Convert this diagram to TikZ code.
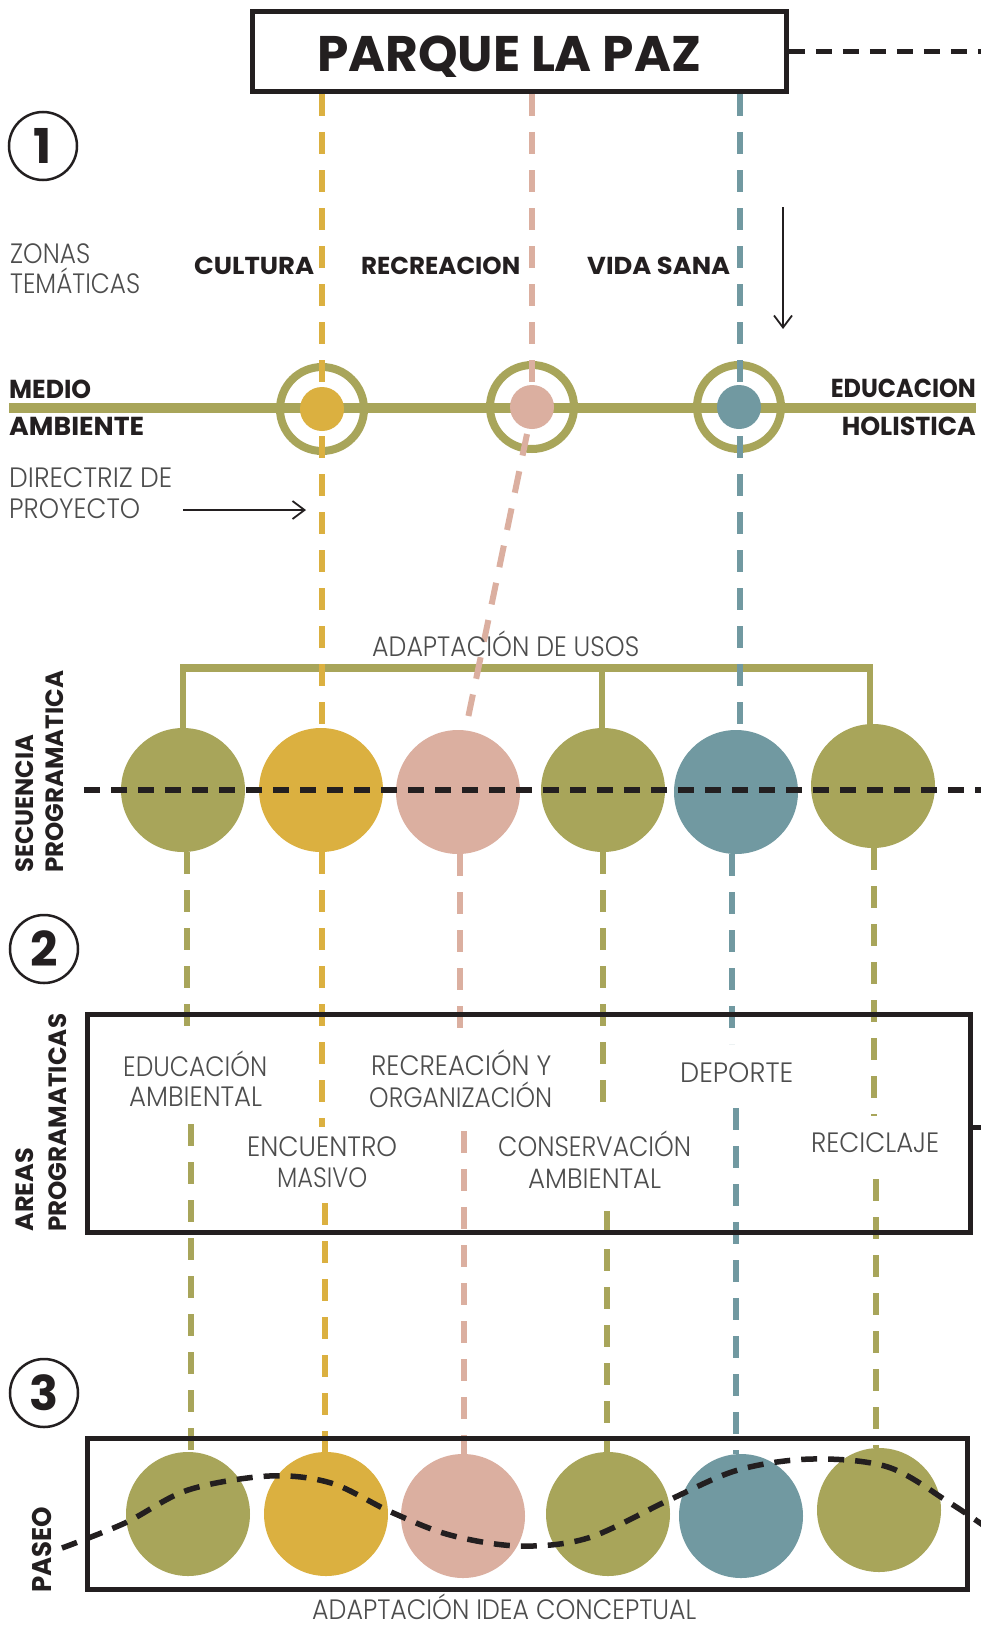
\documentclass[tikz,border=0pt]{standalone}
\usepackage{fontspec}
\usepackage{graphicx}
\setmainfont{Poppins}
\newfontfamily\bfont{Poppins Bold}
\newfontfamily\lfont{Poppins Light}
\definecolor{cOl}{HTML}{A8A55A}
\definecolor{cYe}{HTML}{DBB040}
\definecolor{cPi}{HTML}{DBAFA0}
\definecolor{cTe}{HTML}{7199A1}
\definecolor{cBk}{HTML}{231F20}
\definecolor{cGr}{HTML}{4D4D4D}
\newcommand{\fw}[2]{\resizebox{#1pt}{\height}{#2}}
\usetikzlibrary{arrows.meta}
\tikzset{
  cl/.style={line width=6pt, dash pattern=on 22pt off 16pt},
  bkdash/.style={line width=5.5pt, draw=cBk, dash pattern=on 16pt off 11pt},
  bl/.style={inner sep=0pt, text=cBk, font=\bfont\fontsize{#1}{#1}\selectfont},
  bl/.default=25,
  lt/.style={inner sep=0pt, text=cGr, font=\lfont\fontsize{28}{28}\selectfont},
  num/.style={circle, draw=cBk, line width=2.5pt, minimum size=68pt, inner sep=0pt, text=cBk, font=\bfont\fontsize{48}{48}\selectfont},
  ring/.style={circle, draw=cOl, line width=8pt, minimum size=84pt, inner sep=0pt},
  disc/.style={circle, fill=#1, minimum size=44pt, inner sep=0pt},
  big/.style={circle, fill=#1, minimum size=124pt, inner sep=0pt},
  box/.style={draw=cBk, line width=5pt},
  thinarrow/.style={draw=cBk, line width=1.8pt, -{Straight Barb[length=12pt,width=18pt,line width=1.8pt]}},
}
\begin{document}
\begin{tikzpicture}[x=1pt,y=-1pt]
\useasboundingbox (0,0) rectangle (981,1627);
\fill[white] (0,0) rectangle (981,1627);

% ---------- title ----------
\node[draw=cBk, line width=4.5pt, minimum width=534pt, minimum height=80pt, inner sep=0pt] (title) at (519.5,51.5) {};
\node[bl=50, anchor=base] (ttext) at (509,72) {\fw{384}{PARQUE LA PAZ}};
\coordinate (tR) at (981,51.5);
\draw[bkdash] (title.east) -- (tR);

% ---------- section 1 ----------
\node[num] (n1) at (43,146) {1};

\draw[line width=10pt, draw=cOl] (9,408) coordinate (hL) -- (976,408) coordinate (hR);

\node[ring] (r1) at (322,409) {};
\node[ring] (r2) at (532,407) {};
\node[ring] (r3) at (739,407) {};
\node[disc=cYe] (d1) at (322,409) {};
\node[disc=cPi] (d2) at (532,407) {};
\node[disc=cTe] (d3) at (739,407) {};

% bracket
\coordinate (bL) at (183,730);
\coordinate (bM) at (602,730);
\coordinate (bR) at (870,730);
\draw[draw=cOl, line width=6pt] (bL) -- (183,668);
\draw[draw=cOl, line width=6pt] (bM) -- (602,668);
\draw[draw=cOl, line width=6pt] (bR) -- (870,668);
\draw[draw=cOl, line width=8pt] (180,668) -- (873,668);

% secuencia circles
\node[big=cOl] (s1) at (183,790) {};
\node[big=cYe] (s2) at (321,790) {};
\node[big=cPi] (s3) at (458,792) {};
\node[big=cOl] (s4) at (603,790) {};
\node[big=cTe] (s5) at (736,792) {};
\node[big=cOl] (s6) at (873,786) {};

% vertical lines from title
\draw[cl, draw=cYe] (322,94) -- (322,728);
\draw[cl, draw=cPi] (532,94) -- (d2.north);
\draw[cl, draw=cTe] (740,94) -- (740,730);
\draw[cl, draw=cPi] (527,434) -- (468,718);

\draw[bkdash] (84,790) -- (981,790);

% arrows
\coordinate (aT) at (783,207);
\coordinate (aB) at (783,329);
\draw[thinarrow] (aT) -- (aB);
\coordinate (hA) at (183,510);
\coordinate (hB) at (306,510);
\draw[thinarrow] (hA) -- (hB);

% ---------- paseo circles ----------
\node[big=cOl] (p1) at (188,1514) {};
\node[big=cYe] (p2) at (326,1514) {};
\node[big=cPi] (p3) at (463,1516) {};
\node[big=cOl] (p4) at (608,1514) {};
\node[big=cTe] (p5) at (741,1516) {};
\node[big=cOl] (p6) at (879,1510) {};

% drop lines
\draw[cl, draw=cOl] (187,852) -- (187,1040);
\draw[cl, draw=cOl] (191,1124) -- (191,1452);
\draw[cl, draw=cYe] (322,852) -- (322,1127);
\draw[cl, draw=cYe] (325,1203) -- (325,1452);
\draw[cl, draw=cPi] (460,854) -- (460,1040);
\draw[cl, draw=cPi] (464,1131) -- (464,1454);
\draw[cl, draw=cOl] (603,852) -- (603,1108);
\draw[cl, draw=cOl] (607,1211) -- (607,1452);
\draw[cl, draw=cTe] (732,854) -- (732,1044);
\draw[cl, draw=cTe] (736,1108) -- (736,1454);
\draw[cl, draw=cOl] (874,848) -- (874,1116);
\draw[cl, draw=cOl] (876,1179) -- (876,1448);

% ---------- section 2 ----------
\node[num] (n2) at (44,949) {2};
\draw[box] (87,1014) rectangle (970,1232);
\coordinate (aR1) at (970,1127);
\coordinate (aR2) at (981,1127);
\draw[box] (aR1) -- (aR2);

% ---------- section 3 ----------
\node[num] (n3) at (44,1393) {3};
\draw[box] (87,1438) rectangle (967,1589);
\draw[bkdash] plot[smooth, tension=0.55] coordinates {(62,1548) (125,1523) (188,1490) (269,1476) (331,1483) (391,1512) (450,1535) (519,1546) (588,1538) (669,1500) (738,1470) (812,1459) (888,1467) (950,1503) (990,1530)};

% ---------- texts ----------
\node[lt, anchor=base west] (z1) at (10,263) {\fw{80}{ZONAS}};
\node[lt, anchor=base west] (z2) at (10,293) {\fw{130}{TEMÁTICAS}};
\node[bl=24.5, anchor=base west] (c1) at (194,274) {\fw{120}{CULTURA}};
\node[bl=24.5, anchor=base west] (c2) at (361,274) {\fw{159}{RECREACION}};
\node[bl=24.5, anchor=base west] (c3) at (587,274) {\fw{143}{VIDA SANA}};

\node[bl=26, anchor=base west] (m1) at (9,398) {\fw{82}{MEDIO}};
\node[bl=26, anchor=base west] (m2) at (9,435) {\fw{135}{AMBIENTE}};
\node[bl=26, anchor=base east] (e1) at (976,397) {\fw{145}{EDUCACION}};
\node[bl=26, anchor=base east] (e2) at (976,435) {\fw{134}{HOLISTICA}};

\node[lt, anchor=base west] (dp1) at (9,487) {\fw{163}{DIRECTRIZ DE}};
\node[lt, anchor=base west] (dp2) at (9,518) {\fw{131}{PROYECTO}};

\node[lt, anchor=base west] (au) at (372,656) {\fw{267}{ADAPTACIÓN DE USOS}};

\node[bl=25, rotate=90, anchor=base west] (sq1) at (34,873) {\fw{138}{SECUENCIA}};
\node[bl=25, rotate=90, anchor=base west] (sq2) at (63,873) {\fw{202}{PROGRAMATICA}};

\node[bl=25, rotate=90, anchor=base west] (ap1) at (34,1232) {\fw{84}{AREAS}};
\node[bl=25, rotate=90, anchor=base west] (ap2) at (66,1232) {\fw{218}{PROGRAMATICAS}};

\node[bl=27, rotate=90, anchor=base west] (ps) at (51,1593) {\fw{86}{PASEO}};

\node[lt, anchor=base west] (t1) at (123,1076) {\fw{144}{EDUCACIÓN}};
\node[lt, anchor=base west] (t2) at (129,1106) {\fw{133}{AMBIENTAL}};
\node[lt, anchor=base west] (t3) at (371,1075) {\fw{180}{RECREACIÓN Y}};
\node[lt, anchor=base west] (t4) at (369,1107) {\fw{183}{ORGANIZACIÓN}};
\node[lt, anchor=base west] (t5) at (680,1082) {\fw{113}{DEPORTE}};
\node[lt, anchor=base west] (t6) at (247,1156) {\fw{150}{ENCUENTRO}};
\node[lt, anchor=base west] (t7) at (277,1187) {\fw{90}{MASIVO}};
\node[lt, anchor=base west] (t8) at (498,1156) {\fw{193}{CONSERVACIÓN}};
\node[lt, anchor=base west] (t9) at (528,1188) {\fw{133}{AMBIENTAL}};
\node[lt, anchor=base west] (t10) at (811,1152) {\fw{128}{RECICLAJE}};

\node[lt, anchor=base west] (ac) at (312,1619) {\fw{384}{ADAPTACIÓN IDEA CONCEPTUAL}};
\end{tikzpicture}
\end{document}
